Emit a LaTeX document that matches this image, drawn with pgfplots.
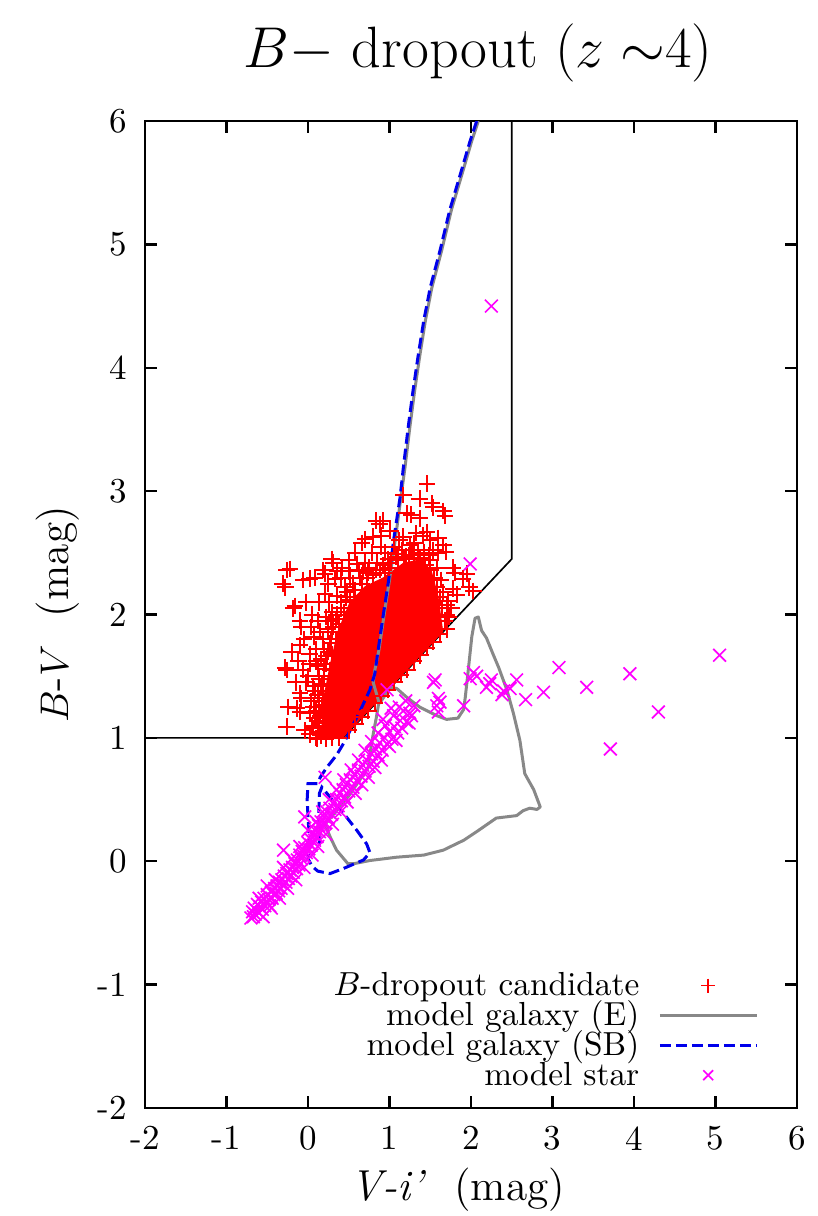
\documentclass[border=0pt]{standalone}
\usepackage{pgfplots}
\pgfplotsset{compat=1.18}
\definecolor{egray}{RGB}{136,136,136}
\definecolor{sbblue}{RGB}{0,0,235}
\definecolor{starmag}{RGB}{255,0,255}
\pgfplotsset{
  lineleg/.style={legend image code/.code={\draw[##1] (0pt,0pt) -- (29pt,0pt);}},
  plusleg/.style={legend image code/.code={\path[draw=none,fill=none] (0pt,-0.5pt) rectangle (29pt,0.5pt);
    \draw[red, line width=0.5pt, mark=+, mark size=2.1pt] plot coordinates {(14.5pt,0pt)};}},
  crossleg/.style={legend image code/.code={\path[draw=none,fill=none] (0pt,-0.5pt) rectangle (29pt,0.5pt);
    \draw[starmag, line width=0.5pt, mark=x, mark size=2.1pt] plot coordinates {(14.5pt,0pt)};}},
}
\begin{document}
\begin{tikzpicture}
\begin{axis}[
  name=ax,
  width=195.6pt, height=296.1pt, scale only axis,
  xmin=-2, xmax=6, ymin=-2, ymax=6,
  xtick={-2,-1,0,1,2,3,4,5,6}, ytick={-2,-1,0,1,2,3,4,5,6},
  xticklabels={-2,-1,0,1,2,3,4,5,6},
  yticklabels={-2,-1,0,1,2,3,4,5,6},
  tick align=inside, major tick length=3.6pt,
  every tick/.style={black, line width=0.7pt},
  axis line style={line width=0.8pt},
  tick label style={font=\fontsize{10.5}{12}\selectfont},
  xticklabel style={yshift=-2pt},
  yticklabel style={xshift=-2pt},
  xlabel={\textit{V-i'}~~(mag)},
  xlabel style={at={(axis description cs:0.48,0)}, anchor=base, yshift=-27.6pt, font=\fontsize{13}{15}\selectfont},
  ylabel={$B$-$V$~~(mag)},
  ylabel style={at={(axis description cs:-0.118,0.50)}, anchor=base, font=\fontsize{13}{15}\selectfont},
  title={$B{-}$ dropout ($z\;{\sim}4$)},
  title style={at={(axis description cs:0.511,1)}, anchor=base, yshift=10.2pt, font=\fontsize{17.5}{20}\selectfont},
  legend cell align=right, legend plot pos=right,
  legend style={at={(axis cs:5.53,-1.86)}, anchor=south east, draw=none, fill=none,
    font=\fontsize{10}{10}\selectfont, row sep=0pt, column sep=5.7pt,
    inner sep=0pt, nodes={inner sep=0pt}},
]
% selection window
\addplot[black, line width=0.5pt, forget plot] coordinates {(-2,1) (0.43,1) (2.5,2.45) (2.5,6)};
% dense core of candidates
\addplot[fill=red, draw=none, forget plot] coordinates {
(0.16,1.0) (0.18,1.3) (0.27,1.6) (0.36,1.86) (0.51,2.1) (0.70,2.23) (0.92,2.3)
(1.17,2.42) (1.40,2.45) (1.52,2.35) (1.60,2.15) (1.66,1.86) (0.43,1.0) (0.16,1.0)};
% candidates
\addplot[only marks, mark=+, mark size=2.5pt, red, line width=0.6pt, plusleg]
table {
1.46 3.06
1.17 2.97
1.37 2.94
1.52 2.90
1.54 2.87
1.66 2.84
1.68 2.80
1.21 2.82
1.27 2.81
1.37 2.78
0.92 2.76
0.84 2.76
0.88 2.73
1.01 2.68
1.46 2.67
1.33 2.66
1.41 2.64
1.17 2.63
0.89 2.64
0.80 2.63
0.70 2.61
0.66 2.58
1.66 2.56
1.54 2.52
1.69 2.51
1.60 2.50
1.05 2.55
1.25 2.56
0.95 2.50
1.10 2.49
0.78 2.50
0.29 2.45
0.31 2.42
0.50 2.44
0.60 2.41
0.62 2.36
1.78 2.38
1.80 2.34
1.95 2.33
1.90 2.29
2.03 2.19
1.98 2.22
1.78 2.21
1.83 2.16
1.72 2.11
1.76 2.05
1.70 2.00
-0.31 2.25
-0.26 2.36
-0.22 2.37
-0.28 2.22
-0.06 2.28
0.02 2.29
0.19 2.36
0.21 2.33
0.33 2.29
0.08 2.30
0.40 2.30
0.45 2.22
-0.16 2.07
-0.18 2.05
0.21 2.17
0.14 2.10
0.26 2.10
-0.10 1.95
-0.08 1.90
0.07 1.82
0.12 1.95
0.22 1.98
0.30 2.02
-0.10 1.75
0.02 1.68
0.10 1.72
0.18 1.80
-0.28 1.57
-0.26 1.55
-0.06 1.55
0.02 1.60
0.12 1.58
0.16 1.64
-0.02 1.45
0.06 1.42
0.14 1.48
-0.10 1.36
-0.08 1.32
0.04 1.30
0.12 1.35
-0.24 1.25
-0.14 1.24
-0.10 1.21
0.02 1.20
0.10 1.22
-0.26 1.09
-0.04 1.06
0.06 1.08
0.11 1.14
0.02 1.03
0.11 0.99
0.16 1.02
0.22 0.99
0.30 1.00
0.38 1.00
0.19 1.12
0.20 1.27
0.24 1.42
0.27 1.55
0.30 1.68
0.34 1.80
0.38 1.92
0.44 2.02
0.52 2.12
0.58 2.20
0.66 2.25
0.72 2.30
0.80 2.32
0.88 2.36
0.95 2.34
1.02 2.42
1.10 2.44
1.18 2.45
1.24 2.48
1.30 2.45
1.38 2.46
1.44 2.40
1.50 2.36
1.55 2.30
1.58 2.22
1.62 2.14
1.64 2.05
1.68 1.95
1.70 1.88
0.50 1.06
0.58 1.11
0.66 1.17
0.74 1.22
0.82 1.28
0.90 1.34
0.98 1.39
1.06 1.45
1.14 1.51
1.22 1.55
1.30 1.62
1.38 1.67
1.46 1.73
1.54 1.78
1.62 1.84
0.05 1.10
0.08 1.16
0.14 1.05
0.15 1.18
0.17 1.25
0.07 1.25
0.13 1.30
0.18 1.38
0.09 1.38
0.20 1.50
0.16 1.42
0.22 1.60
0.10 1.62
0.25 1.70
0.20 1.72
0.28 1.80
0.15 1.86
0.24 1.88
0.31 1.90
0.35 2.00
0.28 1.95
0.40 2.10
0.36 2.15
0.48 2.18
0.55 2.25
0.52 2.30
0.68 2.35
0.75 2.38
0.85 2.42
0.98 2.45
1.15 2.52
1.35 2.52
1.48 2.48
0.10 1.00
0.12 1.10
0.13 1.20
0.14 1.32
0.17 1.44
0.20 1.56
0.23 1.66
0.27 1.77
0.30 1.86
0.34 1.96
0.40 2.05
0.47 2.14
0.56 2.20
0.64 2.30
0.74 2.34
0.84 2.36
0.92 2.40
1.00 2.38
1.08 2.47
1.20 2.47
1.28 2.52
1.42 2.50
1.50 2.44
1.58 2.38
1.63 2.28
1.66 2.18
1.70 2.08
1.73 1.98
0.50 2.35
0.42 2.38
0.70 2.42
0.90 2.55
1.30 2.58
1.12 2.60
1.50 2.60
1.60 2.62
0.58 2.50
0.36 2.35
0.25 2.25
-0.02 2.10
0.05 2.00
-0.05 1.80
0.00 1.50
-0.15 1.45
-0.20 1.70
-0.12 1.62
0.04 1.90
};
\addlegendentry{\rule[-2.8pt]{0pt}{10.2pt}$B$-dropout candidate}
% model galaxy E
\addplot[egray, line width=0.9pt, line join=round, lineleg]
coordinates {
(2.09,6.0) (2.01,5.84) (1.89,5.57) (1.76,5.28) (1.64,4.95) (1.52,4.65) (1.44,4.38)
(1.37,4.09) (1.31,3.82) (1.25,3.52) (1.19,3.19) (1.14,2.95) (1.07,2.6) (1.0,2.28)
(0.93,1.98) (0.87,1.71) (0.82,1.55) (0.80,1.45) (0.87,1.29) (0.84,1.17) (0.80,1.03)
(0.76,0.87) (0.74,0.76) (0.5,0.53) (0.3,0.37) (0.21,0.30) (0.27,0.20) (0.35,0.09)
(0.49,-0.02) (0.56,-0.02) (0.76,0.006) (1.09,0.033) (1.42,0.05) (1.66,0.09) (1.91,0.17)
(2.07,0.24) (2.31,0.35) (2.56,0.37) (2.64,0.41) (2.72,0.43) (2.81,0.42) (2.85,0.44)
(2.77,0.58) (2.66,0.71) (2.60,0.98) (2.52,1.20) (2.44,1.39) (2.34,1.57) (2.27,1.68)
(2.19,1.81) (2.13,1.87) (2.09,1.98) (2.05,1.97) (2.01,1.82) (1.97,1.57) (1.93,1.33)
(1.91,1.23) (1.84,1.16) (1.70,1.15) (1.58,1.18) (1.37,1.25) (1.21,1.33) (1.09,1.40)
(1.01,1.41) (0.95,1.35) (0.88,1.28)};
\addlegendentry{\rule[-2.8pt]{0pt}{10.2pt}model galaxy (E)}
% model galaxy SB
\addplot[sbblue, line width=0.9pt, dash pattern=on 3.3pt off 1.5pt, lineleg]
coordinates {
(2.07,6.0) (1.99,5.84) (1.87,5.57) (1.74,5.28) (1.62,4.95) (1.50,4.65) (1.42,4.38)
(1.35,4.09) (1.29,3.82) (1.23,3.52) (1.17,3.19) (1.13,2.95) (1.05,2.60) (0.99,2.28)
(0.92,1.98) (0.86,1.71) (0.82,1.52) (0.76,1.39) (0.64,1.22) (0.54,1.09) (0.45,0.97)
(0.35,0.86) (0.23,0.76) (0.15,0.68) (0.12,0.63) (0.0,0.63) (-0.01,0.5) (0.0,0.36)
(0.02,0.14) (0.0,0.02) (0.05,-0.04) (0.12,-0.08) (0.27,-0.10) (0.43,-0.06) (0.68,0.01)
(0.76,0.07) (0.72,0.14) (0.6,0.25) (0.47,0.36) (0.35,0.45) (0.27,0.52) (0.17,0.6)
(0.14,0.55) (0.13,0.35) (0.14,0.12)};
\addlegendentry{\rule[-2.8pt]{0pt}{10.2pt}model galaxy (SB)}
% model stars
\addplot[only marks, mark=x, mark size=2.7pt, starmag, line width=0.5pt, crossleg]
table {
-0.70 -0.46
-0.68 -0.41
-0.67 -0.45
-0.66 -0.38
-0.65 -0.43
-0.63 -0.40
-0.62 -0.35
-0.60 -0.42
-0.59 -0.37
-0.57 -0.33
-0.56 -0.39
-0.54 -0.30
-0.53 -0.36
-0.51 -0.33
-0.50 -0.27
-0.48 -0.31
-0.47 -0.36
-0.45 -0.25
-0.44 -0.30
-0.42 -0.27
-0.41 -0.22
-0.39 -0.26
-0.38 -0.20
-0.36 -0.24
-0.35 -0.17
-0.33 -0.22
-0.32 -0.15
-0.30 -0.19
-0.29 -0.12
-0.27 -0.17
-0.26 -0.10
-0.24 -0.14
-0.22 -0.07
-0.21 -0.12
-0.19 -0.05
-0.18 -0.09
-0.16 -0.02
-0.14 -0.06
-0.13 0.01
-0.11 -0.03
-0.10 0.05
-0.08 0.02
-0.07 0.08
-0.05 0.04
-0.04 0.11
-0.02 0.07
0.00 0.15
0.01 0.10
0.03 0.18
0.04 0.13
0.06 0.22
0.08 0.17
0.09 0.25
0.11 0.20
0.13 0.29
0.14 0.24
0.16 0.32
0.18 0.28
0.20 0.36
0.21 0.31
0.23 0.40
0.25 0.35
0.27 0.43
0.29 0.38
0.31 0.47
0.33 0.42
0.35 0.50
0.37 0.45
0.39 0.55
0.41 0.49
0.43 0.58
0.45 0.52
0.47 0.62
0.50 0.57
0.52 0.66
0.55 0.60
0.57 0.70
0.60 0.65
0.62 0.74
0.65 0.69
0.67 0.78
0.70 0.73
0.72 0.82
0.75 0.77
0.78 0.87
0.80 0.81
0.83 0.91
0.86 0.86
0.88 0.96
0.91 0.90
0.94 1.00
0.97 0.95
1.00 1.05
1.03 0.99
1.06 1.09
1.10 1.04
1.13 1.14
1.17 1.22
1.21 1.13
1.25 1.20
1.27 1.18
1.30 1.26
-0.60 -0.30
-0.55 -0.45
-0.50 -0.20
-0.45 -0.38
-0.40 -0.15
-0.35 -0.30
-0.30 -0.05
-0.25 -0.22
-0.20 0.02
-0.15 -0.15
-0.10 0.12
-0.05 -0.05
0.00 0.25
0.05 0.05
0.10 0.32
0.12 0.12
0.18 0.40
0.22 0.22
0.26 0.50
0.30 0.30
0.35 0.58
0.40 0.40
0.44 0.66
0.48 0.48
0.53 0.74
0.58 0.55
0.62 0.82
0.66 0.62
0.70 0.90
0.74 0.68
0.78 0.97
0.82 0.76
0.86 1.04
0.90 0.82
0.95 1.10
1.00 0.93
1.05 1.18
1.08 0.98
1.12 1.25
1.15 1.08
1.20 1.30
1.24 1.12
0.92 1.15
1.02 1.24
0.21 0.68
-0.04 0.36
-0.30 0.09
0.97 1.39
1.54 1.45
1.56 1.47
1.60 1.32
1.58 1.26
1.62 1.29
1.60 1.21
1.91 1.26
1.99 1.48
2.03 1.53
2.07 1.50
2.19 1.41
2.23 1.44
2.25 1.47
2.38 1.35
2.40 1.38
2.48 1.40
2.56 1.47
2.67 1.31
2.89 1.37
3.08 1.57
3.42 1.41
3.71 0.91
3.95 1.52
4.30 1.21
5.05 1.67
1.99 2.41
2.25 4.50
};
\addlegendentry{\rule[-2.8pt]{0pt}{10.2pt}model star}
\end{axis}
\pgfresetboundingbox
\path[use as bounding box] ([shift={(-43.5pt,-32.4pt)}]ax.south west) rectangle ([shift={(201.9pt,332.4pt)}]ax.south west);
\end{tikzpicture}
\end{document}
